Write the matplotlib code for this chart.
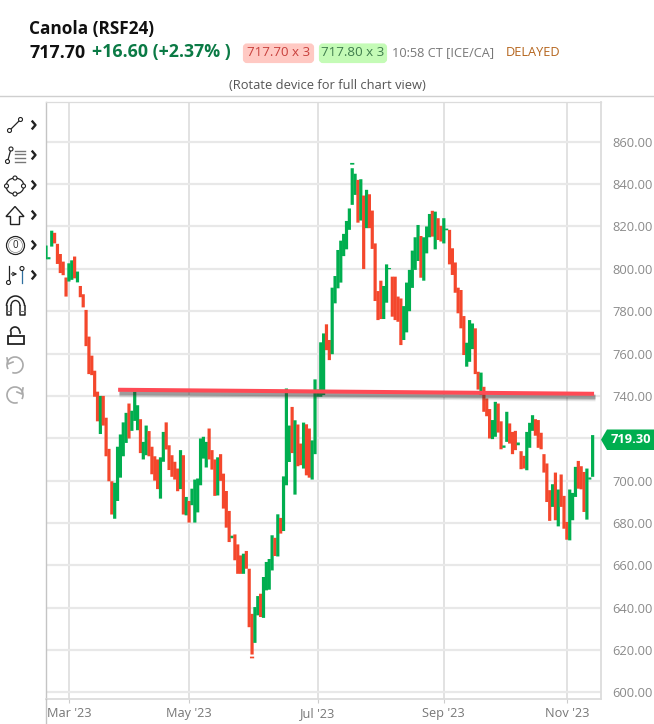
import numpy as np
import matplotlib
matplotlib.use("Agg")
import matplotlib.pyplot as plt
import matplotlib.patheffects as pe
from matplotlib.patches import Circle, Polygon, FancyBboxPatch, Arc, Ellipse

plt.rcParams['font.family'] = ['Open Sans', 'DejaVu Sans']

# daily ranges, one entry per trading day
highs = [811, 805.5, 818, 817, 811.8, 807, 803.4, 795.9, 802.6, 804, 805.8, 798.7, 791.9, 788, 780.6, 768,
         759, 751.9, 742, 740, 740, 729.7, 715, 699.7, 699, 716, 721.8, 727.5, 732, 736.4, 733, 742,
         735.6, 729, 718.3, 726, 723.4, 716, 711.5, 710, 711, 723, 727.5, 716.7, 712, 708.9, 705.7, 714.4,
         712, 692.3, 690.4, 696.2, 700.5, 701, 719.9, 720.7, 718.3, 724.6, 714.4, 710, 711, 712.5, 703.3, 695.1,
         685.7, 674, 674.6, 669.9, 664.7, 665.5, 666.8, 658.4, 637.1, 640.3, 645.5, 646.6, 654.5, 661.6, 663, 674.2,
         673, 684.1, 682.4, 702, 743.5, 726, 734.8, 728.5, 726.5, 717.5, 727.4, 726.6, 724.6, 719, 747.8, 743,
         765.3, 769.5, 773.8, 766.4, 791.1, 796.6, 808.9, 813.3, 816.5, 822.6, 828.5, 847.5, 844.9, 842, 842.3, 834.6,
         837.3, 835.2, 827.5, 812, 789.5, 794.4, 791.9, 802.1, 800.4, 796.3, 796.3, 786.9, 786, 782.4, 793.5, 799.5,
         808.6, 814.9, 820.7, 815.5, 814.9, 820, 825.9, 827.4, 827, 823.9, 820.3, 823.9, 819, 818.4, 809.7, 803,
         791.1, 790, 777.7, 765.1, 775.8, 774.2, 771.9, 751.4, 751, 744.3, 738.8, 733.8, 728.6, 737.2, 736.4, 728,
         716.6, 732.5, 727, 723, 723.5, 718, 713.9, 711.7, 723, 727.3, 730.9, 729, 728.6, 722.6, 712.5, 708.1,
         695.5, 698.3, 703.8, 695.8, 702.9, 692.8, 680.5, 695.8, 694.2, 706.5, 709.3, 706.8, 704.1, 705.7, 701.5, 721.5]
lows = [804.5, 804.5, 810.5, 812, 802.3, 798, 797, 786.9, 794, 794.8, 795.5, 793.6, 786.6, 781.8, 763.5, 750.3,
        749.8, 739.6, 728, 722, 726, 711.5, 699.7, 684, 682, 690.4, 701.4, 711.5, 717.8, 719.9, 723.5, 728.2,
        723.8, 713, 710, 712, 711.5, 703, 700, 696, 691.5, 708.9, 714.7, 705, 701.8, 700.5, 695, 696,
        684, 683.6, 680.2, 688.4, 680.2, 685, 697.8, 710.4, 706.2, 710, 705.2, 692.8, 693, 699.9, 686.8, 677.8,
        671, 672.8, 662.4, 656, 656, 656, 658.4, 630.8, 617.9, 623.4, 636.4, 635.6, 635.2, 648.2, 648.5, 657.6,
        664.4, 664.2, 675, 676.2, 697.8, 708.8, 713, 693.4, 706.8, 707.3, 705.7, 702.5, 701.4, 700.5, 712.5, 739.6,
        739.6, 740.4, 761.6, 756.9, 759.7, 783.7, 790.8, 793.5, 806, 809.2, 818.4, 830.2, 834.9, 821.8, 822.8, 799.9,
        819.2, 819.2, 809.4, 784.8, 775.8, 776.3, 776.3, 784, 799.8, 777.4, 775.8, 775, 764, 766.4, 770, 780,
        791, 799.5, 803.7, 795.8, 794.4, 807.3, 814.9, 815.2, 809.2, 813.6, 812.9, 812, 818.2, 802.1, 797.1, 788.7,
        779, 771.9, 759.3, 753.8, 756.1, 762.1, 750.3, 743, 740.4, 732.5, 730.4, 719.9, 719.6, 720.7, 722.7, 714.8,
        715.5, 718.3, 717.5, 712.5, 714.4, 716.7, 705.4, 705.7, 704.9, 715.5, 723.5, 721.2, 715.5, 714.8, 703.8, 689.9,
        681, 687.6, 681.3, 678.4, 687.6, 677.3, 672.1, 671.8, 681.3, 692.3, 696.2, 695.9, 685.2, 681.6, 700.5, 701.8]
# 1 = green day, 0 = red day
up = [1, 1, 1, 0, 0, 0, 0, 0, 1, 1, 0, 1, 0, 0, 0, 0,
      0, 0, 0, 1, 0, 0, 0, 0, 1, 1, 1, 1, 1, 0, 1, 1,
      1, 0, 1, 1, 0, 0, 0, 0, 1, 1, 0, 0, 0, 0, 0, 1,
      0, 1, 0, 1, 1, 1, 1, 1, 1, 0, 0, 0, 1, 0, 0, 0,
      0, 1, 0, 0, 0, 1, 0, 0, 0, 1, 1, 0, 1, 1, 1, 1,
      0, 1, 0, 1, 1, 1, 0, 1, 0, 0, 1, 0, 0, 1, 1, 1,
      1, 1, 0, 0, 1, 1, 1, 1, 1, 1, 1, 1, 1, 0, 1, 0,
      1, 0, 0, 0, 0, 0, 1, 1, 1, 0, 0, 0, 0, 1, 1, 1,
      1, 1, 1, 0, 1, 1, 1, 0, 1, 0, 0, 1, 1, 0, 0, 0,
      0, 0, 0, 1, 1, 1, 0, 0, 1, 0, 0, 0, 1, 1, 0, 0,
      1, 1, 0, 0, 0, 1, 0, 0, 1, 1, 1, 0, 0, 0, 0, 0,
      0, 1, 0, 1, 0, 0, 0, 1, 1, 1, 0, 0, 0, 1, 1, 1]

# stray dashes just off the extremes
dash_idx = [107, 72]
dash_price = [849.6, 616.5]
dash_up = [1, 0]

month_pos = [8, 50, 95, 139, 182]
month_labels = ["Mar '23", "May '23", "Jul '23", "Sep '23", "Nov '23"]
price_ticks = list(range(600, 861, 20))
trend_x = [25.2, 191.5]
trend_y = [742.9, 741.0]
last_price = 719.30

GREEN = '#00ae4f'
RED = '#f4472c'
W, H = 654, 724

fig = plt.figure(figsize=(W / 100, H / 100), dpi=100)
ax = fig.add_axes([45.5 / W, (H - 699) / H, 555 / W, 597.5 / H])

x = np.arange(len(highs))
colors = [GREEN if u else RED for u in up]
bars = ax.vlines(x, lows, highs, colors=colors, linewidth=2.3, zorder=3)
bars.set_snap(False)
dashes = ax.vlines(dash_idx, np.array(dash_price) - 0.4, np.array(dash_price) + 0.4,
                   colors=[GREEN if u else RED for u in dash_up], linewidth=3, zorder=3)
dashes.set_snap(False)

# soft shadow built from a few faint layers under the trend line
shadow = [pe.SimpleLineShadow(offset=(1, off), shadow_color='#333333', alpha=a, linewidth=w)
          for off, a, w in [(-2.8, 0.12, 5.2), (-2.6, 0.18, 3.8), (-2.4, 0.28, 2.6)]]
ax.plot(trend_x, trend_y, color='#ff4a55', linewidth=2.9, solid_capstyle='butt', zorder=5,
        path_effects=shadow + [pe.Normal()])

ax.set_xlim(-0.175, 193.75)
ax.set_ylim(596.9, 879.0)
ax.set_xticks(month_pos)
ax.set_xticklabels(month_labels)
ax.set_yticks(price_ticks)
ax.set_yticklabels(['' if p == 720 else f'{p:.2f}' for p in price_ticks])
ax.yaxis.tick_right()
ax.tick_params(axis='y', length=0, pad=8.5, labelsize=9.3, labelcolor='#8a8a8a')
ax.tick_params(axis='x', length=3, width=0.8, color='#cccccc', pad=3, labelsize=9.2, labelcolor='#777777')
ax.grid(axis='y', color='#e8e8e8', linewidth=1.6, zorder=0)
ax.grid(axis='x', color='#e2e2e2', linewidth=1.4, zorder=1)
ax.set_axisbelow(True)
for side in ['top', 'right', 'bottom']:
    ax.spines[side].set_color('#dcdcdc')
    ax.spines[side].set_linewidth(1.3)
ax.spines['top'].set_linewidth(0.9)
ax.spines['left'].set_color('#c4c4c4')
ax.spines['left'].set_linewidth(1.0)

# overlay in pixel coordinates for the header, toolbar and price tag
ov = fig.add_axes([0, 0, 1, 1], zorder=10)
ov.set_xlim(0, W)
ov.set_ylim(H, 0)
ov.axis('off')

ov.plot([0, W], [95.7, 95.7], color='#cfcfcf', linewidth=1.0)
ov.plot([45.5, 45.5], [699, H], color='#c4c4c4', linewidth=1.0)

ov.text(29, 29, 'Canola (RSF24)', fontsize=12.4, fontweight='bold', color='#111111', va='center')
ov.text(29, 52.5, '717.70', fontsize=12.8, fontweight='bold', color='#111111', va='center')
ov.text(92.5, 52.5, '+16.60 (+2.37% )', fontsize=12.8, fontweight='bold', color='#0b7a45', va='center')

ov.add_patch(FancyBboxPatch((245, 45.5), 67, 15.5, boxstyle='round,pad=0,rounding_size=2', fc='#ffc9c3', ec='#ffc9c3', lw=3))
ov.text(278.5, 53, '717.70 x 3', fontsize=9.6, color='#c8403c', ha='center', va='center')
ov.add_patch(FancyBboxPatch((321, 45.5), 64, 15.5, boxstyle='round,pad=0,rounding_size=2', fc='#c4fbb6', ec='#c4fbb6', lw=3))
ov.text(353, 53, '717.80 x 3', fontsize=9.6, color='#3f7d4d', ha='center', va='center')
ov.text(392.5, 53, '10:58 CT [ICE/CA]', fontsize=9.2, color='#777777', va='center')
ov.text(505.5, 53, 'DELAYED', fontsize=9.2, color='#b5651d', va='center')
ov.text(327, 85.5, '(Rotate device for full chart view)', fontsize=9.3, color='#555555', ha='center', va='center')

# price tag on the right edge
ov.add_patch(Polygon([(601, 439.7), (607, 429.5), (654, 429.5), (654, 450), (607, 450)], closed=True, fc=GREEN, ec='none'))
ov.text(630.5, 439.7, f'{last_price:.2f}', fontsize=9.3, fontweight='bold', color='white', ha='center', va='center')

# toolbar icons
ink = '#222222'
lw = 0.9


def dot(cx, cy, r=2.0, color=ink):
    ov.add_patch(Circle((cx, cy), r, fc='white', ec=color, lw=0.8, zorder=12))


def chevron(cy):
    ov.plot([32.5, 35.5, 32.5], [cy - 3.5, cy, cy + 3.5], color='#222222', linewidth=1.7, zorder=12)


for cy in [125, 155, 185, 215, 245, 275]:
    chevron(cy)

ov.plot([9.5, 20.5], [130.5, 119.5], color=ink, linewidth=lw)
dot(9.5, 130.5)
dot(20.5, 119.5)

ov.plot([7.5, 11], [161.5, 149], color=ink, linewidth=lw)
dot(7.5, 161.5)
dot(11, 149)
for yy in [150.5, 154, 157.5, 161.5]:
    ov.plot([14.5, 24.5], [yy, yy], color='#777777', linewidth=1.0)

ov.add_patch(Ellipse((15, 186), 18, 16, fc='none', ec=ink, lw=lw))
for cx, cy in [(6.5, 186), (23.5, 186), (15, 178), (15, 194)]:
    dot(cx, cy)

ov.add_patch(Polygon([(15, 206.5), (24, 216.5), (19.5, 216.5), (19.5, 224.5), (10.5, 224.5), (10.5, 216.5), (6, 216.5)],
                     closed=True, fc='none', ec=ink, lw=1.0))

ov.add_patch(Circle((15.5, 245.5), 9, fc='none', ec=ink, lw=lw))
ov.add_patch(Circle((15.5, 245.5), 7, fc='none', ec='#666666', lw=0.4))
ov.text(15.5, 245.5, '0', fontsize=7, color=ink, ha='center', va='center')

ov.plot([8.5, 8.5], [266, 282], color=ink, linewidth=lw)
dot(8.5, 282.5)
ov.annotate('', xy=(20, 274), xytext=(8.5, 274), arrowprops=dict(arrowstyle='->', color=ink, lw=0.8, mutation_scale=6))
ov.plot([22, 22], [270, 283], color='#2f6f9f', linewidth=lw)
dot(22, 268.5)

# magnet
ov.add_patch(Arc((15.5, 306), 18, 20, theta1=180, theta2=360, ec=ink, lw=1.1))
ov.add_patch(Arc((15.5, 306), 9, 11, theta1=180, theta2=360, ec=ink, lw=1.0))
for x0, x1 in [(6.5, 11), (20, 24.5)]:
    ov.plot([x0, x0, x1, x1], [306, 315, 315, 306], color=ink, linewidth=1.1)
    ov.plot([x0, x1], [311, 311], color='#777777', linewidth=0.8)

# open lock
ov.add_patch(Polygon([(8, 336), (23.5, 336), (23.5, 343.5), (8, 343.5)], closed=True, fc='none', ec=ink, lw=1.3))
ov.add_patch(Arc((15, 331.5), 9, 9, theta1=180, theta2=360, ec=ink, lw=1.2))
ov.plot([10.5, 10.5], [331.5, 336], color=ink, linewidth=1.2)
ov.plot([19.5, 19.5], [331.5, 332.5], color=ink, linewidth=1.2)

# undo and redo
ov.add_patch(Arc((15, 365), 16, 16, theta1=-210, theta2=110, ec='#aaaaaa', lw=1.2))
ov.plot([7, 8, 13], [358, 364, 362], color='#aaaaaa', linewidth=1.2)
ov.add_patch(Arc((15, 395), 16, 16, theta1=70, theta2=390, ec='#aaaaaa', lw=1.2))
ov.plot([23, 22, 17], [388, 394, 392], color='#aaaaaa', linewidth=1.2)

fig.savefig('out.png', dpi=100)
